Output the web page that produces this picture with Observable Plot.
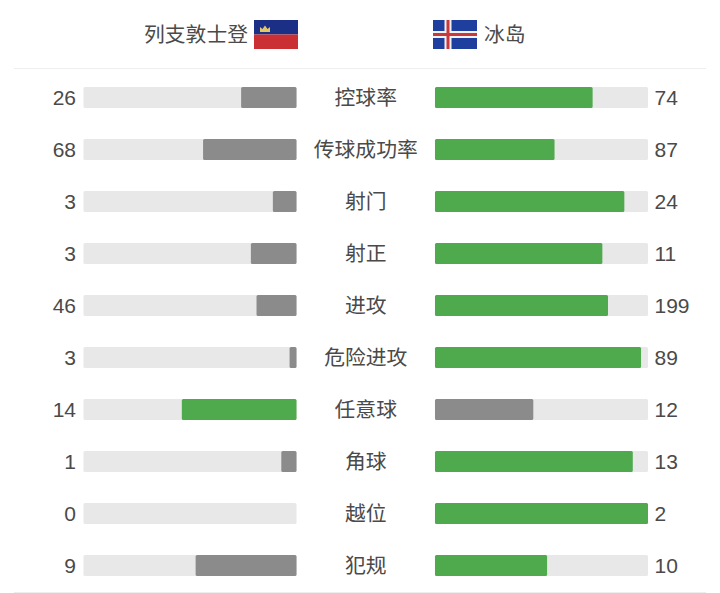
<!DOCTYPE html>
<html><head><meta charset="utf-8">
<script src="https://cdn.jsdelivr.net/npm/d3@7"></script>
<script src="https://cdn.jsdelivr.net/npm/@observablehq/plot@0.6"></script>
<style>
html,body{margin:0;padding:0;background:#fff;width:720px;height:593px;overflow:hidden}
#page{position:relative;width:720px;height:593px}
#head{position:relative;height:69px;width:720px;font-family:"Noto Sans CJK SC","Noto Sans",sans-serif;font-size:20.8px;color:#4a4a4a}
#head span{position:absolute;top:18px;line-height:30px;white-space:nowrap}
#head svg{position:absolute;top:20px}
.hr{position:absolute;left:14px;width:692px;height:1px;background:#eeeeee}
#chart svg{display:block}
</style></head><body>
<div id="page">
<div id="head">
  <span style="right:472px">列支敦士登</span>
  <svg style="left:254px" width="44" height="29" viewBox="0 0 44 29">
    <rect width="44" height="14.5" fill="#1c2f86"/><rect y="14.5" width="44" height="14.5" fill="#c92f33"/>
    <path d="M6 12V7l2.5 2L11 5.5 13.500 9 16 7v5z" fill="#e3c766"/>
  </svg>
  <svg style="left:433px" width="44" height="29" viewBox="0 0 44 29">
    <rect width="44" height="29" fill="#1f3f9e"/>
    <rect x="11.500" width="7" height="29" fill="#f2f2f2"/><rect y="11" width="44" height="7" fill="#f2f2f2"/>
    <rect x="13.500" width="3" height="29" fill="#c8383c"/><rect y="13" width="44" height="3" fill="#c8383c"/>
  </svg>
  <span style="left:484px">冰岛</span>
  <div class="hr" style="top:68px"></div>
</div>
<div id="chart"></div>
<div class="hr" style="top:592px"></div>
</div>
<script>
const categories = ["控球率","传球成功率","射门","射正","进攻","危险进攻","任意球","角球","越位","犯规"];
const leftValues = [26,68,3,3,46,3,14,1,0,9];
const rightValues = [74,87,24,11,199,89,12,13,2,10];

const green = "#4fa94d", gray = "#8b8b8b", track = "#e8e8e8", ink = "#4a4a4a";
const gap = 0.325; // half of the centre gap, in bar-lengths

const rows = categories.map((c,i)=>{
  const a = leftValues[i], b = rightValues[i], t = a+b;
  return {c, a, b, ls: a/t, rs: b/t, lw: a>b, rw: b>a};
});
const font = {fontFamily:'"Liberation Sans",Arial,sans-serif', fontSize:21, fill:ink};

const plot = Plot.plot({
  width:720, height:524, margin:0,
  style:{background:"transparent"},
  x:{domain:[-1.717,1.663], range:[0,720], axis:null},
  y:{type:"band", domain:categories, range:[1,523.5], paddingInner:0.6, paddingOuter:0.3, axis:null},
  marks:[
    Plot.barX(rows,{y:"c", x1:-(gap+1), x2:-gap, fill:track, rx:1.5}),
    Plot.barX(rows,{y:"c", x1:gap, x2:gap+1, fill:track, rx:1.5}),
    Plot.barX(rows.filter(d=>d.ls>0),{y:"c", x1:d=>-gap-d.ls, x2:-gap, fill:d=>d.lw?green:gray, rx:1.5}),
    Plot.barX(rows.filter(d=>d.rs>0),{y:"c", x1:gap, x2:d=>gap+d.rs, fill:d=>d.rw?green:gray, rx:1.5}),
    Plot.text(rows,{y:"c", x:-(gap+1), dx:-8, text:d=>String(d.a), textAnchor:"end", ...font}),
    Plot.text(rows,{y:"c", x:gap+1, dx:6, text:d=>String(d.b), textAnchor:"start", ...font}),
    Plot.text(rows,{y:"c", x:0, dx:-0.5, text:"c", textAnchor:"middle", ...font, fontSize:20.8, fontFamily:'"Noto Sans CJK SC","Noto Sans",sans-serif'})
  ]
});
document.getElementById("chart").appendChild(plot);
</script>
</body></html>
